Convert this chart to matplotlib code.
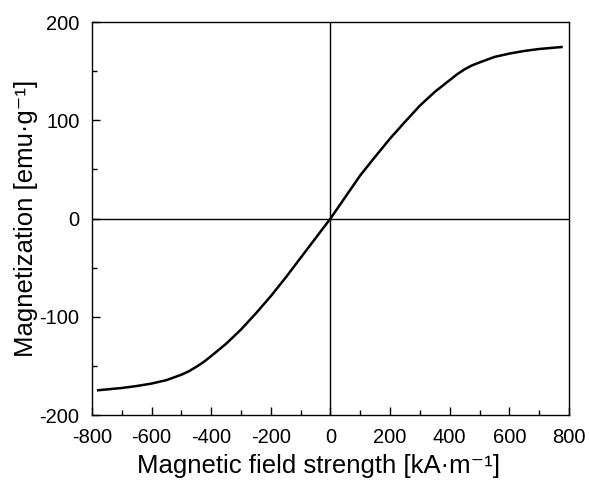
import matplotlib
matplotlib.use("Agg")
import matplotlib.pyplot as plt
from matplotlib.ticker import MultipleLocator

plt.rcParams['font.family'] = ['Liberation Sans', 'DejaVu Sans']
plt.rcParams['axes.unicode_minus'] = False

# punkty
pole = [-779, -700, -650, -600, -550, -500, -475, -450, -425, -400, -350, -300,
        -250, -200, -150, -100, -50, 0, 50, 100, 150, 200, 250, 300, 350, 400,
        425, 450, 475, 500, 550, 600, 650, 700, 775]
magnetyzacja = [-174.8, -172.5, -170.5, -168, -164.5, -159, -155.5, -151, -146, -140,
                -127.5, -113, -96.5, -79, -60, -40, -20, 0, 22, 44, 63, 81.5, 98.5,
                115, 129, 141, 147, 152, 156, 159, 164.6, 168, 170.7, 172.7, 174.7]

fig = plt.figure(figsize=(5.89, 4.82), dpi=100)
ax = fig.add_axes([0.156, 0.139, 0.81, 0.815])

ax.axhline(0, color="black", lw=1)
ax.axvline(0, color="black", lw=1)
ax.plot(pole, magnetyzacja, color="black", lw=1.8)

ax.set_xlim(-800, 800)
ax.set_ylim(-200, 200)
ax.xaxis.set_major_locator(MultipleLocator(200))
ax.xaxis.set_minor_locator(MultipleLocator(100))
ax.yaxis.set_major_locator(MultipleLocator(100))
ax.yaxis.set_minor_locator(MultipleLocator(50))
ax.tick_params(which="both", direction="in", labelsize=14.5, width=1)
ax.tick_params(which="major", length=6, pad=9)
ax.tick_params(which="minor", length=3.5)
for s in ax.spines.values():
    s.set_linewidth(1)

ax.set_xlabel("Magnetic field strength [kA·m⁻¹]", fontsize=18.5)
ax.xaxis.set_label_coords(0.475, -0.1)
ax.set_ylabel("Magnetization [emu·g⁻¹]", fontsize=18.5, labelpad=1)

plt.savefig("out.png")
